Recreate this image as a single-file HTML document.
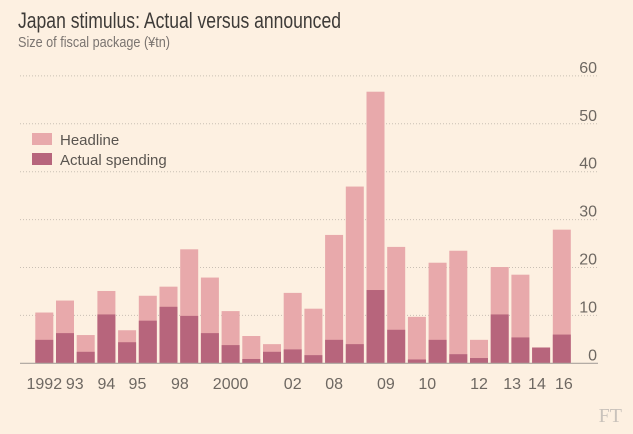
<!DOCTYPE html>
<html><head><meta charset="utf-8"><style>
html,body{margin:0;padding:0;background:#fdf0e1;}
svg{display:block;font-family:"Liberation Sans",sans-serif;}
</style></head><body>
<svg id="chart" width="633" height="434" viewBox="0 0 633 434">
<rect width="633" height="434" fill="#fdf0e1"/>
<text x="18" y="28" font-size="22" fill="#3e3b38" textLength="323" lengthAdjust="spacingAndGlyphs">Japan stimulus: Actual versus announced</text>
<text x="18" y="47" font-size="15" fill="#7a7470" textLength="152" lengthAdjust="spacingAndGlyphs">Size of fiscal package (¥tn)</text>
<g id="grid"></g>
<g id="bars"></g>
<g id="xlabels"></g>
<g>
<rect x="32" y="133" width="20" height="12" fill="#e8a9ab"/>
<text x="60" y="145" font-size="15" fill="#5a5550">Headline</text>
<rect x="32" y="153" width="20" height="12" fill="#b7657c"/>
<text x="60" y="165" font-size="15" fill="#5a5550">Actual spending</text>
</g>
<text x="622" y="422" font-size="20" fill="#c9c2bb" text-anchor="end" font-family="Liberation Serif,serif">FT</text>
</svg>
<script>
const headline=[10.6,13.1,5.9,15.1,6.9,14.1,16.0,23.8,17.9,10.9,5.7,4.0,14.7,11.4,26.8,36.9,56.7,24.3,9.7,21.0,23.5,4.9,20.1,18.5,3.3,27.9];
const actual=[4.9,6.3,2.4,10.2,4.4,8.9,11.8,9.9,6.3,3.8,0.9,2.4,2.9,1.7,4.9,4.0,15.3,7.0,0.8,4.9,1.9,1.1,10.2,5.4,3.3,6.0];
const yTicks=[0,10,20,30,40,50,60];
const xLabels=["1992","93","94","95","98","2000","02","08","09","10","12","13","14","16"];
const xLabelIdx=[0,1.47,3.0,4.5,6.55,9.0,12.0,14.0,16.5,18.5,21.0,22.6,23.8,25.1];
const NS="http://www.w3.org/2000/svg";
const y0=363.3, pxPer=4.79, x0=35.3, pitch=20.7, bw=18;
const y=v=>y0-v*pxPer;
const x=i=>x0+i*pitch;
function mk(tag,attrs,parent){const e=document.createElementNS(NS,tag);for(const k in attrs)e.setAttribute(k,attrs[k]);parent.appendChild(e);return e;}
const grid=document.getElementById('grid');
yTicks.forEach(t=>{
  if(t>0){const l=mk('line',{x1:20,x2:598,y1:y(t),y2:y(t),stroke:'#c9bfb4','stroke-width':1,'stroke-dasharray':'1,2'},grid);
  
  }
  const tx=mk('text',{x:597,y:y(t)-3,'font-size':16,fill:'#6e6862','text-anchor':'end'},grid);
  tx.textContent=t;
  
  
});
const bars=document.getElementById('bars');
headline.forEach((h,i)=>{
  const r=mk('rect',{x:x(i),y:y(h),width:bw,height:y0-y(h),fill:'#e8a9ab'},bars);
  
  
  const a=actual[i];
  const r2=mk('rect',{x:x(i),y:y(a),width:bw,height:y0-y(a),fill:'#b7657c'},bars);
  
  
});
const base=mk('line',{x1:20,x2:598,y1:y0,y2:y0,stroke:'#aaa39c','stroke-width':1.2},bars);


const xl=document.getElementById('xlabels');
xLabels.forEach((s,i)=>{
  const t=mk('text',{x:x(xLabelIdx[i])+bw/2,y:389,'font-size':16,fill:'#6e6862','text-anchor':'middle'},xl);
  t.textContent=s;
  
  
});
</script>
</body></html>
